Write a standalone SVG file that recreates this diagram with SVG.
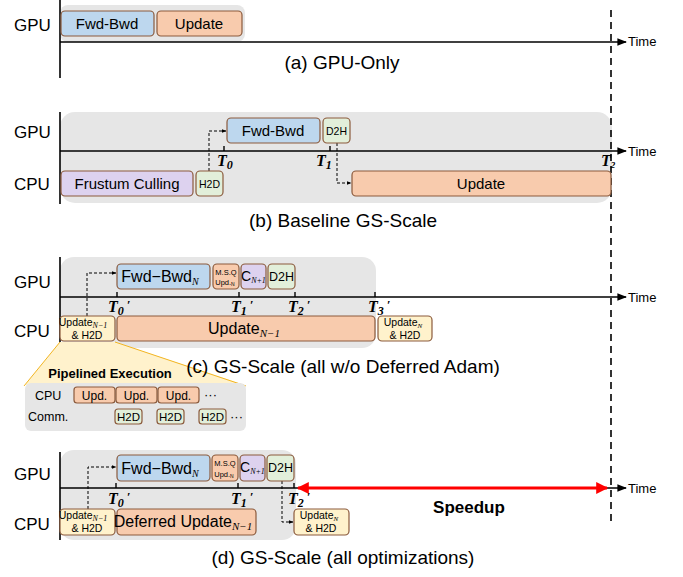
<svg xmlns="http://www.w3.org/2000/svg" width="683" height="577" viewBox="0 0 683 577">
<defs>
<style>
.bg{fill:#e6e6e6;stroke:none}
.box{stroke:#8b5a3c;stroke-width:1.2}
.blue{fill:#bdd7ee}.orange{fill:#f8cbad}.lav{fill:#ddd2ef}.green{fill:#e2efda}.yellow{fill:#fff2cc}
.ax{stroke:#000;stroke-width:1.6;fill:none}
.tick{stroke:#000;stroke-width:1.4}
.dash{stroke:#000;stroke-width:1;stroke-dasharray:3 2;fill:none}
.vd{stroke:#000;stroke-width:1.6;stroke-dasharray:7 5;fill:none}
text{font-family:"Liberation Sans",Arial,sans-serif;fill:#000}
.lbl{font-size:17px}
.cap{font-size:19px;text-anchor:middle}
.bt{font-size:15px;text-anchor:middle}
.sm{font-size:11px;text-anchor:middle}
.tm{font-size:13px}
.T{font-family:"Liberation Serif","DejaVu Serif",serif;font-weight:bold;font-style:italic;font-size:16px}
.sub{font-family:"Liberation Serif","DejaVu Serif",serif;font-style:italic}
</style>
<marker id="ah" viewBox="0 0 10 10" refX="9" refY="5" markerWidth="6" markerHeight="6" orient="auto"><path d="M0,1 L10,5 L0,9 z" fill="#000"/></marker>
<marker id="dah" viewBox="0 0 10 10" refX="9" refY="5" markerWidth="5" markerHeight="5" orient="auto"><path d="M0,1 L10,5 L0,9 z" fill="#000"/></marker>
<marker id="rah" viewBox="0 0 10 10" refX="9" refY="5" markerWidth="5" markerHeight="4" orient="auto-start-reverse"><path d="M0,0 L10,5 L0,10 z" fill="#ff0000"/></marker>
</defs>

<!-- backgrounds -->
<g id="backgrounds">
<rect class="bg" x="60" y="5" width="185" height="37" rx="8"/>
<rect class="bg" x="60" y="112" width="552" height="91" rx="15"/>
<rect class="bg" x="60" y="257" width="316" height="91" rx="14"/>
<rect class="bg" x="60" y="450" width="236" height="90" rx="14"/>
</g>

<!-- axes -->
<g id="axes">
<line class="ax" x1="60" y1="0" x2="60" y2="78"/>
<line class="ax" x1="60" y1="42" x2="626" y2="42" marker-end="url(#ah)"/>
<text class="tm" x="628" y="46">Time</text>
<line class="ax" x1="60" y1="112" x2="60" y2="204"/>
<line class="ax" x1="60" y1="151" x2="626" y2="151" marker-end="url(#ah)"/>
<text class="tm" x="628" y="156">Time</text>
<line class="ax" x1="60" y1="257" x2="60" y2="343"/>
<line class="ax" x1="60" y1="297" x2="626" y2="297" marker-end="url(#ah)"/>
<text class="tm" x="628" y="302">Time</text>
<line class="ax" x1="60" y1="452" x2="60" y2="540"/>
<line class="ax" x1="60" y1="488" x2="626" y2="488" marker-end="url(#ah)"/>
<text class="tm" x="628" y="493">Time</text>
<line class="vd" x1="611" y1="10" x2="611" y2="522"/>
<text class="lbl" x="14" y="31">GPU</text>
<text class="lbl" x="14" y="138">GPU</text>
<text class="lbl" x="14" y="190">CPU</text>
<text class="lbl" x="14" y="288">GPU</text>
<text class="lbl" x="14" y="337">CPU</text>
<text class="lbl" x="14" y="480">GPU</text>
<text class="lbl" x="14" y="530">CPU</text>
</g>

<!-- connectors -->
<g id="connectors">
<path class="dash" d="M209,171 V131 H226" marker-end="url(#dah)"/>
<path class="dash" d="M337,143 V183 H351" marker-end="url(#dah)"/>
<path class="dash" d="M87,316 V273 H116" marker-end="url(#dah)"/>
<path class="dash" d="M88,509 V467 H116" marker-end="url(#dah)"/>
<path class="dash" d="M282,481 V522 H293" marker-end="url(#dah)"/>
<line x1="298" y1="488" x2="607" y2="488" stroke="#ff0000" stroke-width="3" marker-start="url(#rah)" marker-end="url(#rah)"/>
</g>

<!-- (a) -->
<g id="a-fwd"><rect class="box blue" x="61" y="11" width="93" height="25" rx="4"/><text class="bt" x="107" y="29">Fwd-Bwd</text></g>
<g id="a-upd"><rect class="box orange" x="157" y="11" width="85" height="25" rx="4"/><text class="bt" x="199" y="29">Update</text></g>
<text class="cap" x="342" y="69">(a) GPU-Only</text>

<!-- (b) -->
<g id="b-fwd"><rect class="box blue" x="227" y="118" width="93" height="25" rx="4"/><text class="bt" x="273" y="136">Fwd-Bwd</text></g>
<g id="b-d2h"><rect class="box green" x="323" y="118" width="27" height="25" rx="4"/><text class="sm" x="336.5" y="135" style="font-size:10.5px">D2H</text></g>
<g id="b-fc"><rect class="box lav" x="61" y="171" width="132" height="25" rx="4"/><text class="bt" x="127" y="189">Frustum Culling</text></g>
<g id="b-h2d"><rect class="box green" x="196" y="171" width="27" height="25" rx="4"/><text class="sm" x="209.5" y="188" style="font-size:10.5px">H2D</text></g>
<g id="b-upd"><rect class="box orange" x="352" y="171" width="259" height="25" rx="4"/><text class="bt" x="481" y="189">Update</text></g>
<g id="b-ticks">
<line class="tick" x1="224" y1="146" x2="224" y2="151"/>
<line class="tick" x1="330" y1="146" x2="330" y2="151"/>
<text class="T" x="217" y="166">T<tspan font-size="12" dy="3">0</tspan></text>
<text class="T" x="316" y="166">T<tspan font-size="12" dy="3">1</tspan></text>
<text class="T" x="601" y="166" font-size="13">T<tspan font-size="9" dy="2">2</tspan></text>
</g>
<text class="cap" x="343" y="227">(b) Baseline GS-Scale</text>

<!-- (c) -->
<g id="c-fwd"><rect class="box blue" x="117" y="264" width="93" height="25" rx="4"/><text class="bt" x="160" y="282" style="font-size:16px">Fwd−Bwd<tspan class="sub" font-size="10" dy="3">N</tspan></text></g>
<g id="c-msq"><rect class="box orange" x="213" y="264" width="26" height="25" rx="4"/><text class="sm" x="226" y="275" style="font-size:7.5px">M.S.Q</text><text class="sm" x="225" y="285" style="font-size:7.5px">Upd.<tspan font-size="5" dy="1">N</tspan></text></g>
<g id="c-c"><rect class="box lav" x="241" y="264" width="25" height="25" rx="4"/><text x="241" y="281" style="font-size:14px">C<tspan class="sub" font-size="8" dy="2">N+1</tspan></text></g>
<g id="c-d2h"><rect class="box green" x="268" y="264" width="27" height="25" rx="4"/><text class="sm" x="281.5" y="281" style="font-size:12.5px">D2H</text></g>
<g id="c-u1"><rect class="box yellow" x="60" y="316" width="55" height="25" rx="4"/><text class="sm" x="83" y="326" style="font-size:10.5px">Update<tspan class="sub" font-size="8" dy="2">N−1</tspan></text><text class="sm" x="87" y="339" style="font-size:10.5px">&amp; H2D</text></g>
<g id="c-upd"><rect class="box orange" x="117" y="316" width="258" height="25" rx="4"/><text class="bt" x="244" y="334" style="font-size:16px">Update<tspan class="sub" font-size="11" dy="3">N−1</tspan></text></g>
<g id="c-u2"><rect class="box yellow" x="378" y="316" width="54" height="25" rx="4"/><text class="sm" x="403" y="326" style="font-size:10.5px">Update<tspan class="sub" font-size="7" dy="2">N</tspan></text><text class="sm" x="405" y="339" style="font-size:10.5px">&amp; H2D</text></g>
<g id="c-ticks">
<line class="tick" x1="117" y1="292" x2="117" y2="297"/>
<line class="tick" x1="239" y1="292" x2="239" y2="297"/>
<line class="tick" x1="295" y1="292" x2="295" y2="297"/>
<line class="tick" x1="375" y1="292" x2="375" y2="297"/>
<text class="T" x="108" y="312">T<tspan font-size="12" dy="3">0</tspan><tspan font-size="13" dy="-6" dx="3">′</tspan></text>
<text class="T" x="231" y="312">T<tspan font-size="12" dy="3">1</tspan><tspan font-size="13" dy="-6" dx="3">′</tspan></text>
<text class="T" x="288" y="312">T<tspan font-size="12" dy="3">2</tspan><tspan font-size="13" dy="-6" dx="3">′</tspan></text>
<text class="T" x="368" y="312">T<tspan font-size="12" dy="3">3</tspan><tspan font-size="13" dy="-6" dx="3">′</tspan></text>
</g>

<!-- inset -->
<g id="inset">
<polygon points="60,342 115,342 245,385 25,385" fill="#fff2cc" stroke="none"/>
<line x1="60" y1="342" x2="24" y2="386" stroke="#f2b522" stroke-width="1"/>
<line x1="115" y1="342" x2="246" y2="386" stroke="#f2b522" stroke-width="1"/>
<text x="110" y="378" text-anchor="middle" style="font-size:13px;font-weight:bold">Pipelined Execution</text>
<rect class="bg" x="25" y="383" width="221" height="48" rx="6"/>
<text x="35" y="400" style="font-size:12.5px">CPU</text>
<text x="28" y="421" style="font-size:12.5px">Comm.</text>
<rect class="box orange" x="74" y="387" width="41" height="16" rx="3"/><text class="sm" x="94.5" y="400" style="font-size:12px">Upd.</text>
<rect class="box orange" x="116" y="387" width="41" height="16" rx="3"/><text class="sm" x="136.5" y="400" style="font-size:12px">Upd.</text>
<rect class="box orange" x="158" y="387" width="41" height="16" rx="3"/><text class="sm" x="178.5" y="400" style="font-size:12px">Upd.</text>
<text x="204" y="399" style="font-size:13px">···</text>
<rect class="box green" x="115" y="409" width="27" height="15" rx="3"/><text class="sm" x="128.5" y="421" style="font-size:11.5px">H2D</text>
<rect class="box green" x="157" y="409" width="27" height="15" rx="3"/><text class="sm" x="170.5" y="421" style="font-size:11.5px">H2D</text>
<rect class="box green" x="199" y="409" width="27" height="15" rx="3"/><text class="sm" x="212.5" y="421" style="font-size:11.5px">H2D</text>
<text x="230" y="421" style="font-size:13px">···</text>
</g>
<text class="cap" x="343" y="373">(c) GS-Scale (all w/o Deferred Adam)</text>

<!-- (d) -->
<g id="d-fwd"><rect class="box blue" x="117" y="455" width="93" height="26" rx="4"/><text class="bt" x="160" y="474" style="font-size:16px">Fwd−Bwd<tspan class="sub" font-size="10" dy="3">N</tspan></text></g>
<g id="d-msq"><rect class="box orange" x="212" y="455" width="26" height="26" rx="4"/><text class="sm" x="225" y="466" style="font-size:7.5px">M.S.Q</text><text class="sm" x="224" y="477" style="font-size:7.5px">Upd.<tspan font-size="5" dy="1">N</tspan></text></g>
<g id="d-c"><rect class="box lav" x="240" y="455" width="25" height="26" rx="4"/><text x="240" y="472" style="font-size:14px">C<tspan class="sub" font-size="8" dy="2">N+1</tspan></text></g>
<g id="d-d2h"><rect class="box green" x="267" y="455" width="27" height="26" rx="4"/><text class="sm" x="280.5" y="472" style="font-size:12.5px">D2H</text></g>
<g id="d-u1"><rect class="box yellow" x="60" y="509" width="55" height="26" rx="4"/><text class="sm" x="83" y="519" style="font-size:10.5px">Update<tspan class="sub" font-size="8" dy="2">N−1</tspan></text><text class="sm" x="87" y="532" style="font-size:10.5px">&amp; H2D</text></g>
<g id="d-def"><rect class="box orange" x="117" y="509" width="139" height="26" rx="4"/><text class="bt" x="183" y="527" style="font-size:16px">Deferred Update<tspan class="sub" font-size="11" dy="3">N−1</tspan></text></g>
<g id="d-u2"><rect class="box yellow" x="294" y="509" width="55" height="26" rx="4"/><text class="sm" x="319" y="519" style="font-size:10.5px">Update<tspan class="sub" font-size="7" dy="2">N</tspan></text><text class="sm" x="321" y="532" style="font-size:10.5px">&amp; H2D</text></g>
<g id="d-ticks">
<line class="tick" x1="116" y1="483" x2="116" y2="488"/>
<line class="tick" x1="238" y1="483" x2="238" y2="488"/>
<line class="tick" x1="294" y1="483" x2="294" y2="488"/>
<text class="T" x="108" y="504">T<tspan font-size="12" dy="3">0</tspan><tspan font-size="13" dy="-6" dx="3">′</tspan></text>
<text class="T" x="231" y="504">T<tspan font-size="12" dy="3">1</tspan><tspan font-size="13" dy="-6" dx="3">′</tspan></text>
<text class="T" x="288" y="504">T<tspan font-size="12" dy="3">2</tspan><tspan font-size="13" dy="-6" dx="3">′</tspan></text>
</g>
<text x="469" y="513" text-anchor="middle" style="font-size:17px;font-weight:bold">Speedup</text>
<text class="cap" x="343" y="564">(d) GS-Scale (all optimizations)</text>
</svg>
